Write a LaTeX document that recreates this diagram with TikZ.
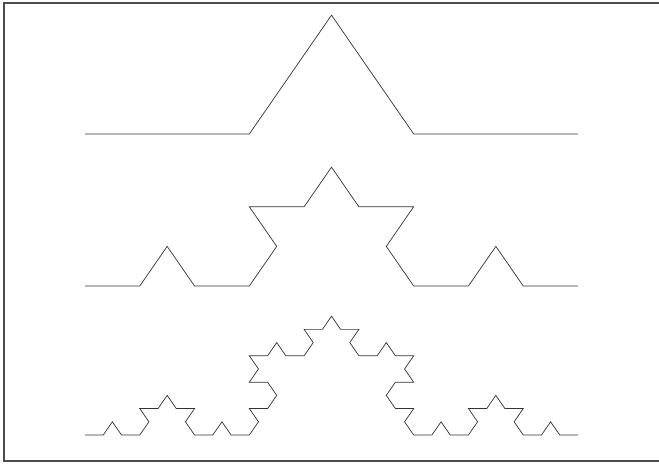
\documentclass[tikz,border=0pt]{standalone}
\usepackage{tikz}
\usetikzlibrary{lindenmayersystems}
\pgfdeclarelindenmayersystem{koch bump}{\rule{F -> F+F--F+F}}
\tikzset{
  frameline/.style={draw=black!70, line width=1.1pt},
  kochline/.style={draw=black!80, line width=0.6pt, line join=miter}
}

\begin{document}
\begin{tikzpicture}[x=0.03cm, y=0.03cm]
  \useasboundingbox (0,0) rectangle (659,466);
  % scanned frame: top, left and bottom only
  \draw[frameline] (659,463) -- (4,463) -- (4,5) -- (659,5);
  % Koch curve, orders 1 to 3
  \foreach \n/\base/\len in {1/332/4.93cm, 2/180/1.6433cm, 3/31/0.54778cm} {
    \begin{scope}[shift={(85,\base)}, yscale=0.835]
      \draw[kochline, l-system={koch bump, axiom=F, order=\n, angle=60, step=\len}]
        (0,0) lindenmayer system;
    \end{scope}
  }
\end{tikzpicture}
\end{document}
